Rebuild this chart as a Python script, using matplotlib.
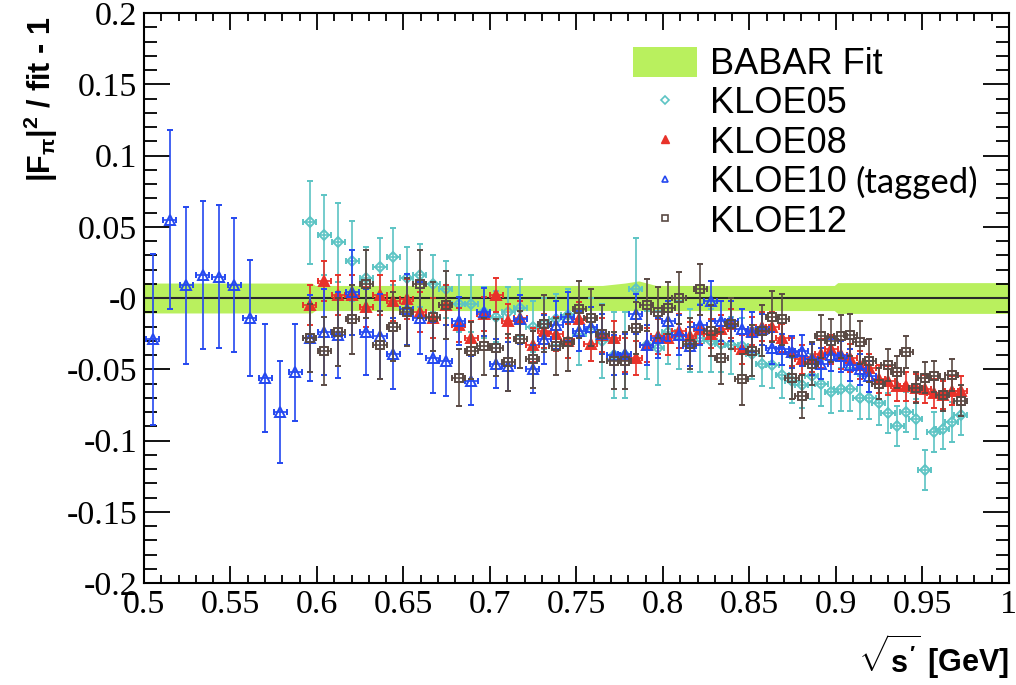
import matplotlib
matplotlib.use("Agg")
import matplotlib.pyplot as plt
from matplotlib.patches import Patch
from matplotlib.lines import Line2D
from matplotlib.ticker import MultipleLocator

# sqrt(s') bin centres (GeV) shared by KLOE05 / KLOE08 / KLOE12
x_grid = [0.5958, 0.6042, 0.6124, 0.6205, 0.6285, 0.6364, 0.6442, 0.6519, 0.6595, 0.6671,
          0.6745, 0.6819, 0.6892, 0.6964, 0.7036, 0.7106, 0.7176, 0.7246, 0.7314, 0.7382,
          0.7450, 0.7517, 0.7583, 0.7649, 0.7714, 0.7778, 0.7842, 0.7906, 0.7969, 0.8031,
          0.8093, 0.8155, 0.8216, 0.8276, 0.8337, 0.8396, 0.8456, 0.8515, 0.8573, 0.8631,
          0.8689, 0.8746, 0.8803, 0.8860, 0.8916, 0.8972, 0.9028, 0.9083, 0.9138, 0.9192,
          0.9247, 0.9301, 0.9354, 0.9407, 0.9460, 0.9513, 0.9566, 0.9618, 0.9670, 0.9721]
x_kloe10 = [0.5050, 0.5148, 0.5244, 0.5339, 0.5431, 0.5523, 0.5612, 0.5701, 0.5788, 0.5874] + x_grid[:50]

y_kloe05 = [0.053, 0.044, 0.039, 0.026, 0.014, 0.022, 0.029, 0.014, 0.016, 0.010,
            0.006, -0.004, -0.004, -0.010, -0.013, -0.010, -0.007, -0.020, -0.018, -0.015,
            -0.012, -0.025, -0.022, -0.030, -0.040, -0.040, 0.006, -0.033, -0.035, -0.024,
            -0.026, -0.030, -0.028, -0.030, -0.032, -0.033, -0.034, -0.039, -0.046, -0.047,
            -0.054, -0.058, -0.061, -0.055, -0.060, -0.066, -0.064, -0.064, -0.070, -0.070,
            -0.074, -0.081, -0.090, -0.080, -0.085, -0.121, -0.094, -0.092, -0.087, -0.082]
e_kloe05 = [0.029, 0.028, 0.028, 0.028, 0.022, 0.020, 0.020, 0.022, 0.022, 0.020,
            0.020, 0.020, 0.020, 0.018, 0.018, 0.018, 0.020, 0.018, 0.018, 0.018,
            0.018, 0.022, 0.022, 0.026, 0.030, 0.030, 0.036, 0.024, 0.026, 0.022,
            0.024, 0.022, 0.024, 0.022, 0.020, 0.020, 0.020, 0.018, 0.016, 0.016,
            0.016, 0.016, 0.016, 0.016, 0.016, 0.015, 0.015, 0.015, 0.015, 0.015,
            0.015, 0.014, 0.014, 0.014, 0.014, 0.014, 0.014, 0.014, 0.014, 0.014]

y_kloe08 = [-0.005, 0.012, 0.002, 0.002, -0.006, 0.002, -0.002, -0.001, -0.010, -0.014,
            -0.005, -0.019, -0.028, -0.011, 0.002, -0.016, -0.014, -0.033, -0.023, -0.025,
            -0.030, -0.015, -0.032, -0.026, -0.028, -0.040, -0.042, -0.033, -0.027, -0.028,
            -0.023, -0.027, -0.022, -0.025, -0.022, -0.018, -0.036, -0.023, -0.020, -0.020,
            -0.028, -0.038, -0.043, -0.042, -0.039, -0.036, -0.040, -0.042, -0.047, -0.049,
            -0.057, -0.058, -0.062, -0.062, -0.063, -0.064, -0.067, -0.068, -0.065, -0.065]
e_kloe08 = [0.014, 0.014, 0.014, 0.014, 0.014, 0.014, 0.014, 0.014, 0.014, 0.014,
            0.014, 0.012, 0.012, 0.012, 0.012, 0.012, 0.012, 0.012, 0.012, 0.012,
            0.012, 0.012, 0.012, 0.012, 0.012, 0.012, 0.012, 0.012, 0.012, 0.012,
            0.012, 0.010, 0.010, 0.010, 0.010, 0.010, 0.010, 0.010, 0.010, 0.010,
            0.010, 0.010, 0.010, 0.010, 0.010, 0.010, 0.010, 0.010, 0.010, 0.010,
            0.010, 0.010, 0.010, 0.010, 0.010, 0.010, 0.010, 0.010, 0.010, 0.010]

y_kloe10 = [-0.029, 0.055, 0.009, 0.016, 0.015, 0.009, -0.014, -0.056, -0.080, -0.052,
            -0.028, -0.024, -0.026, 0.004, -0.024, -0.027, -0.039, -0.008, -0.014, -0.042,
            -0.044, -0.016, -0.058, -0.010, -0.046, -0.048, -0.015, -0.050, -0.029, -0.019,
            -0.013, -0.023, -0.020, -0.025, -0.040, -0.039, -0.011, -0.033, -0.028, -0.016,
            -0.026, -0.034, -0.019, -0.002, -0.016, -0.016, -0.022, -0.024, -0.022, -0.035,
            -0.036, -0.038, -0.037, -0.043, -0.046, -0.040, -0.041, -0.047, -0.050, -0.055]
e_kloe10 = [0.060, 0.063, 0.055, 0.052, 0.050, 0.047, 0.041, 0.038, 0.036, 0.034,
            0.030, 0.030, 0.030, 0.030, 0.030, 0.030, 0.025, 0.025, 0.025, 0.025,
            0.025, 0.017, 0.017, 0.017, 0.017, 0.017, 0.017, 0.017, 0.017, 0.017,
            0.017, 0.014, 0.014, 0.014, 0.014, 0.014, 0.014, 0.014, 0.014, 0.014,
            0.014, 0.014, 0.014, 0.014, 0.014, 0.014, 0.014, 0.014, 0.011, 0.011,
            0.011, 0.011, 0.011, 0.011, 0.011, 0.011, 0.011, 0.011, 0.011, 0.011]

y_kloe12 = [-0.028, -0.037, -0.024, -0.015, 0.010, -0.033, -0.020, -0.010, 0.010, -0.013,
            -0.005, -0.056, -0.037, -0.034, -0.035, -0.045, -0.029, -0.043, -0.018, -0.034,
            -0.031, -0.008, -0.014, -0.025, -0.044, -0.044, -0.021, -0.005, -0.010, -0.007,
            0.000, -0.032, 0.006, -0.023, -0.042, -0.018, -0.057, -0.037, -0.023, -0.013,
            -0.015, -0.056, -0.069, -0.046, -0.027, -0.030, -0.027, -0.026, -0.031, -0.044,
            -0.060, -0.047, -0.052, -0.038, -0.063, -0.056, -0.055, -0.068, -0.054, -0.072]
e_kloe12 = [0.024, 0.024, 0.024, 0.024, 0.024, 0.024, 0.024, 0.024, 0.024, 0.024,
            0.024, 0.020, 0.020, 0.020, 0.020, 0.020, 0.020, 0.020, 0.020, 0.020,
            0.020, 0.020, 0.020, 0.020, 0.020, 0.020, 0.018, 0.018, 0.018, 0.018,
            0.018, 0.018, 0.018, 0.018, 0.018, 0.018, 0.018, 0.018, 0.018, 0.018,
            0.018, 0.015, 0.015, 0.015, 0.015, 0.015, 0.015, 0.015, 0.015, 0.015,
            0.011, 0.011, 0.011, 0.011, 0.011, 0.011, 0.011, 0.011, 0.011, 0.011]

# BABAR fit uncertainty band around zero
band_x = [0.50, 0.597, 0.599, 0.765, 0.778, 0.786, 0.796, 0.899, 0.901, 1.00]
band_hi = [0.0105, 0.0105, 0.0088, 0.0088, 0.0105, 0.0120, 0.0088, 0.0088, 0.0108, 0.0108]
band_lo = [-0.0105, -0.0105, -0.0088, -0.0088, -0.0088, -0.0088, -0.0088, -0.0088, -0.0108, -0.0108]

xticks = [0.5, 0.55, 0.6, 0.65, 0.7, 0.75, 0.8, 0.85, 0.9, 0.95, 1.0]
xtick_labels = ["0.5", "0.55", "0.6", "0.65", "0.7", "0.75", "0.8", "0.85", "0.9", "0.95", "1"]
yticks = [-0.2, -0.15, -0.1, -0.05, 0.0, 0.05, 0.1, 0.15, 0.2]
ytick_labels = ["-0.2", "-0.15", "-0.1", "-0.05", "-0", "0.05", "0.1", "0.15", "0.2"]

GREEN = "#b9f05e"
CYAN = "#5cc4c4"
RED = "#e8322a"
BLUE = "#2448f0"
GREY = "#5a4a44"

plt.rcParams["mathtext.fontset"] = "custom"
plt.rcParams["mathtext.rm"] = "Liberation Sans:bold"
plt.rcParams["mathtext.bf"] = "Liberation Sans:bold"
plt.rcParams["mathtext.it"] = "Liberation Sans:bold"

fig = plt.figure(figsize=(10.16, 6.85), dpi=100)
ax = fig.add_axes([0.1417, 0.1489, 0.8514, 0.8321])

ax.fill_between(band_x, band_lo, band_hi, color=GREEN, lw=0, zorder=1)
ax.axhline(0, color="#2a2a2a", lw=1.5, zorder=2)

series = [
    (x_grid, y_kloe05, e_kloe05, "D", CYAN, "none", 4.8, 3),
    (x_grid, y_kloe08, e_kloe08, "^", RED, RED, 7.0, 4),
    (x_kloe10, y_kloe10, e_kloe10, "^", BLUE, "none", 6.5, 5),
    (x_grid, y_kloe12, e_kloe12, "s", GREY, "none", 6.3, 6),
]
for xs, ys, es, mk, col, fc, ms, z in series:
    ax.errorbar(xs, ys, yerr=es, xerr=0.0038, fmt=mk, ms=ms, mfc=fc, mec=col,
                mew=1.4, ecolor=col, elinewidth=1.2, capsize=2.2, capthick=1.2,
                zorder=z)

ax.set_xlim(0.5, 1.0)
ax.set_ylim(-0.2, 0.2)
ax.set_xticks(xticks)
ax.set_xticklabels(xtick_labels)
ax.set_yticks(yticks)
ax.set_yticklabels(ytick_labels)
ax.xaxis.set_minor_locator(MultipleLocator(0.01))
ax.yaxis.set_minor_locator(MultipleLocator(0.01))
ax.tick_params(which="both", direction="in", top=True, right=True, width=1.3)
ax.tick_params(axis="x", which="major", length=12, pad=5)
ax.tick_params(axis="x", which="minor", length=6)
ax.tick_params(axis="y", which="major", length=19, pad=5)
ax.tick_params(axis="y", which="minor", length=9.5)
for lab in ax.get_xticklabels() + ax.get_yticklabels():
    lab.set_family("Liberation Serif")
    lab.set_fontsize(24.5)
for sp in ax.spines.values():
    sp.set_linewidth(1.5)

fig.text(0.04, 0.975, r"$|F_{\pi}|^{2}$ / fit - 1", rotation=90, ha="center", va="top",
         fontsize=22, fontweight="bold", family="Liberation Sans")
fig.text(0.993, 0.042, r"$\sqrt{s'}$ [GeV]", ha="right", va="center",
         fontsize=22, fontweight="bold", family="Liberation Sans")

handles = [
    Patch(facecolor=GREEN, edgecolor="none"),
    Line2D([], [], ls="none", marker="D", ms=4, mfc="none", mec=CYAN, mew=1.2),
    Line2D([], [], ls="none", marker="^", ms=6, mfc=RED, mec=RED),
    Line2D([], [], ls="none", marker="^", ms=5, mfc="none", mec=BLUE, mew=1.2),
    Line2D([], [], ls="none", marker="s", ms=5, mfc="none", mec=GREY, mew=1.2),
]
labels = ["BABAR Fit", "KLOE05", "KLOE08", "KLOE10", "KLOE12"]
leg = ax.legend(handles, labels, loc="upper left", bbox_to_anchor=(0.623, 0.932),
                bbox_transform=fig.transFigure, frameon=False,
                prop={"family": "Liberation Sans", "size": 26},
                handlelength=1.78, handleheight=0.9, handletextpad=0.35,
                labelspacing=0.11, borderpad=0, borderaxespad=0)

# "(tagged)" note right after the KLOE10 legend label
fig.canvas.draw()
bb = leg.get_texts()[3].get_window_extent()
fig.text((bb.x1 + 9) / fig.bbox.width, (bb.y0 + bb.y1) / 2 / fig.bbox.height, "(tagged)",
         ha="left", va="center", fontsize=25, family="Lato")

fig.savefig("out.png", dpi=100)
